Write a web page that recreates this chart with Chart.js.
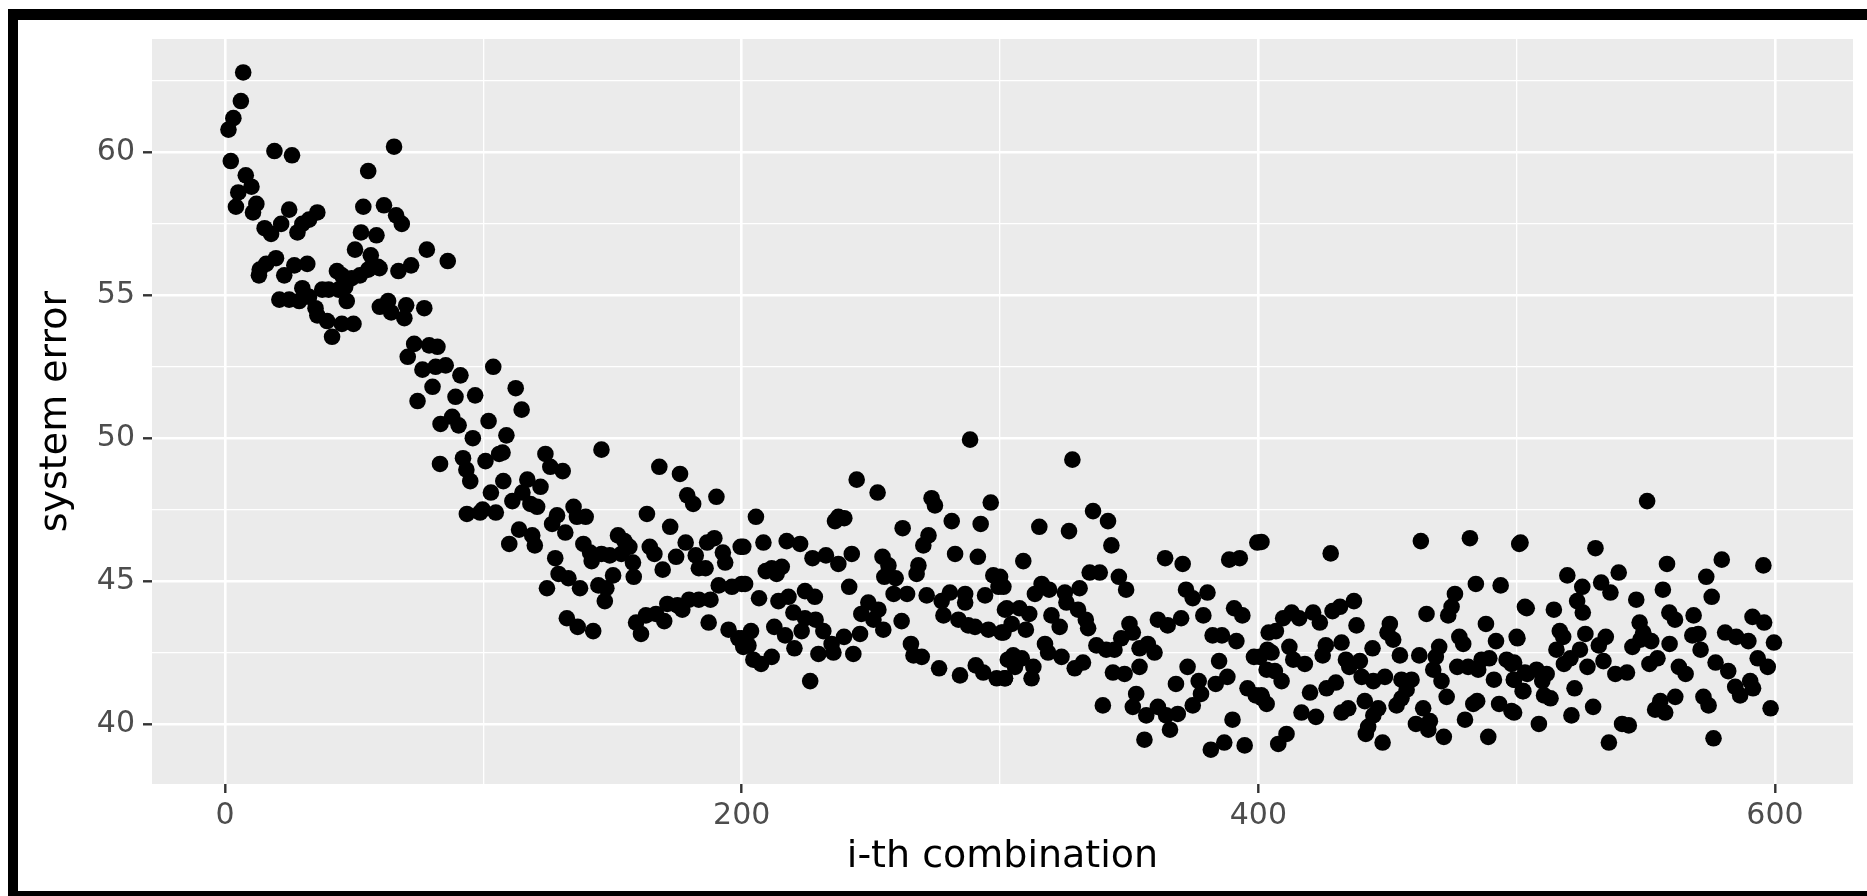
<!DOCTYPE html>
<html>
<head>
<meta charset="utf-8">
<script src="https://cdn.jsdelivr.net/npm/chart.js@4.4.1/dist/chart.umd.min.js"></script>
<style>
  html, body { margin: 0; padding: 0; background: #fff; overflow: hidden; }
  #wrap { position: relative; width: 1867px; height: 896px; }
  #frame {
    position: absolute; left: 8px; top: 9px; width: 3000px; height: 871px;
    border-left: 10px solid #000; border-top: 11px solid #000; border-bottom: 12px solid #000;
    pointer-events: none;
  }
</style>
</head>
<body>
<div id="wrap">
  <canvas id="errorChart" width="1867" height="896"></canvas>
  <div id="frame"></div>
</div>
<script>
// i-th combination (x) and system error (y)
const combination = [
  7.0, 6.1, 3.2, 1.3, 2.2, 19.1, 25.9, 65.4, 55.4, 8.0, 10.2, 5.1, 12.1, 4.2, 10.8, 24.8, 35.7, 32.5, 29.9, 28.0,
  53.5, 61.5, 66.2, 68.4, 15.3, 17.8, 21.7, 52.6, 58.6, 50.3, 56.4, 59.2, 78.1, 86.2, 19.7, 15.9, 13.4, 13.1, 22.9, 26.8,
  31.8, 29.9, 21.0, 24.8, 28.7, 32.5, 37.6, 43.3, 45.2, 49.0, 52.2, 55.4, 59.8, 46.5, 43.9, 40.1, 47.1, 35.7, 39.5, 41.4,
  45.2, 49.7, 35.0, 59.9, 63.1, 64.3, 70.1, 69.4, 77.1, 67.1, 72.0, 73.2, 70.7, 79.0, 82.2, 76.4, 81.5, 85.4, 91.1, 80.3,
  74.5, 89.2, 96.8, 83.4, 87.9, 90.4, 95.9, 83.2, 92.1, 93.4, 94.9, 93.6, 98.7,
  103.8, 112.5, 114.8, 102.0, 108.9, 106.1, 100.8, 107.4, 124.0, 125.9, 130.7, 145.7, 107.7, 117.0, 122.1, 102.9, 115.1, 111.2, 118.2, 120.8,
  99.7, 104.8, 168.1, 176.1, 178.9, 181.2, 190.2, 163.3, 172.3, 128.5, 126.6, 134.9, 136.2, 139.6, 131.7, 113.8, 110.0, 118.9, 119.9, 138.7,
  141.3, 141.9, 145.7, 148.9, 152.1, 154.6, 156.5, 153.4, 157.9, 164.4, 166.2, 169.4, 174.6, 178.3, 182.2, 183.4, 186.0, 186.6, 189.4, 192.7,
  193.6, 199.6, 127.8, 129.1, 132.9, 137.4, 124.6, 144.5, 147.6, 150.2, 147.0, 158.2, 132.3, 136.5, 142.5, 159.1, 161.0, 162.9, 166.8, 170.0,
  171.2, 175.1, 177.0, 179.6, 183.4, 187.9, 187.2, 191.1, 196.2, 200.0, 194.9, 198.7, 200.6,
  288.4, 244.5, 252.6, 273.5, 274.8, 296.4, 205.5, 237.4, 239.7, 236.1, 281.3, 292.5, 262.3, 200.6, 208.4, 217.4, 222.6, 272.3, 270.3, 282.6,
  291.4, 227.4, 232.6, 242.6, 237.4, 254.5, 256.8, 268.4, 267.7, 209.3, 211.6, 213.5, 215.5, 255.2, 259.6, 297.4, 201.3, 299.4, 294.2, 241.6,
  224.5, 206.7, 214.2, 218.1, 228.3, 258.8, 264.0, 271.6, 277.4, 280.6, 286.5, 286.5, 301.9, 249.0, 252.9, 246.3, 220.0, 224.5, 228.6, 251.0,
  254.8, 261.9, 278.1, 283.9, 287.7, 290.3, 295.5, 300.6, 212.6, 216.8, 223.2, 231.6, 239.6, 245.8, 200.0, 203.6, 202.6, 234.8, 235.5, 229.7,
  220.4, 211.6, 204.5, 207.5, 243.2, 265.5, 266.5, 269.7, 276.4, 284.5, 290.6, 293.5, 298.7, 301.9, 226.5, 303.0,
  328.0, 336.0, 341.8, 315.2, 326.7, 343.1, 309.0, 399.6, 363.9, 370.7, 388.7, 392.8, 334.7, 338.6, 346.0, 348.8, 300.0, 301.3, 316.1, 313.5,
  319.0, 325.1, 330.8, 325.7, 330.2, 333.2, 334.1, 372.0, 374.6, 380.3, 390.6, 393.8, 302.6, 307.5, 311.3, 304.5, 301.3, 310.0, 319.9, 323.1,
  361.1, 364.9, 370.1, 378.7, 350.1, 351.4, 346.9, 344.3, 337.3, 341.1, 317.4, 318.6, 323.8, 354.0, 357.2, 359.8, 382.3, 385.9, 391.5, 404.0,
  403.5, 398.3, 305.1, 308.4, 305.8, 312.9, 312.2, 301.9, 328.9, 332.1, 354.0, 372.6, 384.8, 388.0, 383.5, 376.9, 368.1, 343.7, 348.2, 352.7,
  351.4, 356.6, 361.1, 364.3, 368.8, 374.6, 377.8, 339.8, 395.8, 401.5, 399.0, 365.8, 355.9, 390.0, 381.6, 386.8, 394.7,
  401.2, 428.0, 462.9, 481.9, 501.0, 484.2, 493.8, 476.1, 474.8, 473.5, 465.1, 503.2, 437.0, 431.6, 428.7, 421.2, 423.8, 412.9, 415.8, 409.6,
  406.8, 438.0, 450.9, 450.0, 452.2, 488.1, 477.8, 479.3, 492.0, 500.0, 412.0, 405.1, 400.6, 426.1, 432.2, 424.9, 444.2, 454.8, 462.3, 470.0,
  468.7, 433.9, 435.2, 439.3, 413.5, 418.0, 486.4, 489.4, 496.1, 498.0, 477.0, 481.2, 485.1, 467.7, 403.2, 406.4, 409.0, 440.0, 444.5, 449.0,
  455.4, 459.3, 470.9, 491.2, 498.9, 503.2, 502.3, 420.0, 426.4, 430.0, 457.4, 455.4, 453.5, 401.2, 403.2, 472.9, 484.7, 483.2, 493.2, 498.0,
  441.2, 446.4, 434.8, 432.2, 416.7, 422.3, 463.8, 480.0, 444.5, 442.5, 441.6, 448.1, 461.0, 466.4, 465.8, 471.8, 489.0, 410.9, 407.7,
  550.5, 501.5, 530.5, 558.2, 579.4, 595.5, 519.6, 539.5, 573.4, 525.4, 532.7, 536.3, 556.6, 575.5, 546.3, 523.4, 503.9, 514.4, 525.6, 559.1,
  561.3, 568.5, 591.3, 595.8, 547.6, 516.7, 518.0, 526.6, 534.5, 549.0, 552.1, 547.9, 544.8, 500.3, 515.4, 524.5, 531.8, 559.2, 568.0, 570.3,
  571.2, 580.7, 585.0, 589.7, 599.6, 518.3, 520.8, 527.4, 533.6, 538.2, 542.7, 551.4, 554.5, 562.8, 565.4, 577.0, 581.9, 593.3, 597.2, 499.0,
  504.1, 507.7, 511.6, 509.9, 499.0, 502.6, 510.6, 513.1, 522.4, 584.6, 586.5, 590.4, 591.5, 561.4, 572.3, 574.3, 555.6, 553.6, 557.5, 529.6,
  521.2, 499.0, 508.6, 540.8, 543.4, 535.7, 576.2, 598.3
];

const systemError = [
  62.8, 61.8, 61.2, 60.8, 59.7, 60.05, 59.9, 60.2, 59.35, 59.2, 58.8, 58.6, 58.2, 58.1, 57.9, 58.0, 57.9, 57.65, 57.5, 57.2,
  58.1, 58.15, 57.8, 57.5, 57.35, 57.15, 57.5, 57.2, 57.1, 56.6, 56.4, 56.0, 56.6, 56.2, 56.3, 56.1, 55.9, 55.7, 55.7, 56.05,
  56.1, 55.25, 54.85, 54.85, 54.8, 54.95, 55.2, 55.85, 55.7, 55.6, 55.7, 55.9, 55.95, 55.3, 55.2, 55.2, 54.8, 54.3, 54.1, 53.55,
  54.0, 54.0, 54.55, 54.6, 54.8, 54.4, 54.65, 54.2, 54.55, 55.85, 56.05, 53.3, 52.85, 53.25, 53.2, 52.4, 52.5, 52.55, 52.2, 51.8,
  51.3, 51.45, 51.5, 50.5, 50.75, 50.45, 50.0, 49.1, 49.3, 48.9, 48.5, 47.35, 47.4,
  52.5, 51.75, 51.0, 50.6, 50.1, 49.45, 49.2, 49.5, 49.45, 49.0, 48.85, 49.6, 48.5, 48.55, 48.3, 48.1, 48.1, 47.8, 47.7, 47.6,
  47.5, 47.4, 49.0, 48.75, 48.0, 47.7, 47.95, 47.35, 46.9, 47.3, 47.0, 47.6, 47.25, 47.25, 46.7, 46.8, 46.3, 46.6, 46.25, 46.3,
  46.0, 45.7, 45.95, 45.9, 46.6, 46.4, 46.2, 45.95, 45.65, 46.2, 45.95, 45.4, 45.85, 46.35, 45.9, 45.45, 45.45, 46.35, 46.5, 46.0,
  45.65, 46.2, 45.8, 45.25, 45.1, 44.75, 44.75, 44.85, 44.75, 45.2, 44.3, 45.15, 43.7, 43.4, 43.25, 43.55, 43.15, 43.8, 43.85, 43.6,
  44.2, 44.15, 44.0, 44.35, 44.35, 44.35, 43.55, 44.85, 44.8, 44.9, 43.3, 43.0, 42.7,
  49.95, 48.55, 48.1, 47.9, 47.65, 47.75, 47.25, 47.25, 47.2, 47.1, 47.1, 47.0, 46.85, 46.2, 46.35, 46.4, 46.3, 46.6, 46.25, 45.95,
  45.85, 45.8, 45.9, 45.95, 45.6, 45.85, 45.55, 45.55, 45.25, 45.35, 45.45, 45.25, 45.5, 45.15, 45.1, 45.2, 44.9, 44.8, 44.5, 44.8,
  44.65, 44.4, 44.3, 44.45, 44.45, 44.55, 44.55, 44.5, 44.3, 44.6, 44.55, 44.25, 44.0, 44.25, 44.0, 43.85, 43.9, 43.7, 43.65, 43.65,
  43.3, 43.6, 43.8, 43.65, 43.45, 43.4, 43.3, 43.2, 43.4, 43.1, 43.25, 43.25, 43.05, 43.15, 43.0, 43.25, 42.75, 42.8, 42.5, 42.45,
  42.65, 42.35, 42.25, 42.1, 42.45, 42.8, 42.4, 42.35, 41.95, 41.7, 42.05, 41.8, 41.6, 41.6, 41.5, 42.25,
  49.25, 47.45, 47.1, 46.9, 46.75, 46.25, 45.7, 46.35, 45.8, 45.6, 45.75, 45.8, 45.3, 45.3, 45.15, 44.7, 45.15, 44.8, 44.9, 44.55,
  44.7, 44.6, 44.75, 44.25, 44.0, 43.65, 43.35, 44.7, 44.4, 44.6, 44.05, 43.8, 44.05, 44.05, 43.85, 43.5, 43.2, 43.3, 43.8, 43.4,
  43.65, 43.45, 43.7, 43.8, 43.5, 43.2, 43.0, 42.6, 42.75, 42.6, 42.8, 42.5, 42.35, 42.65, 42.8, 42.5, 43.1, 43.1, 42.9, 43.2,
  42.6, 42.35, 42.4, 42.3, 42.0, 42.0, 41.6, 41.6, 41.95, 42.15, 42.0, 42.0, 42.2, 41.65, 41.4, 41.5, 41.4, 41.8, 41.75, 41.05,
  40.6, 40.3, 40.6, 40.3, 40.35, 40.65, 41.05, 40.65, 41.25, 40.9, 41.0, 39.8, 39.45, 40.15, 39.1, 39.35, 39.25,
  46.37, 45.97, 46.4, 46.5, 46.3, 44.9, 44.85, 44.55, 44.1, 43.8, 43.85, 44.1, 44.3, 44.1, 43.95, 43.9, 43.55, 43.9, 43.7, 43.7,
  43.25, 43.45, 43.5, 43.2, 42.95, 43.5, 43.05, 42.8, 42.9, 43.05, 42.7, 42.5, 42.35, 42.75, 42.85, 42.4, 42.65, 42.4, 42.4, 42.7,
  42.35, 42.25, 42.0, 42.2, 42.25, 42.1, 42.25, 42.3, 42.25, 42.1, 42.0, 42.0, 41.9, 41.9, 41.9, 41.85, 41.5, 41.65, 41.5, 41.65,
  41.55, 41.55, 41.5, 41.55, 41.55, 41.8, 41.15, 41.1, 41.25, 41.45, 41.2, 40.9, 40.65, 41.0, 40.7, 40.95, 40.8, 40.7, 40.7, 40.45,
  40.8, 40.55, 40.55, 40.4, 40.4, 40.25, 40.55, 40.15, 40.3, 39.9, 39.65, 39.35, 40.0, 40.1, 39.8, 39.55, 39.55, 39.65, 39.3,
  47.8, 46.35, 46.15, 45.6, 45.75, 45.55, 45.2, 45.3, 45.15, 44.8, 44.95, 44.6, 44.7, 44.45, 44.35, 44.3, 44.05, 44.0, 43.9, 43.9,
  43.65, 43.8, 43.75, 43.55, 43.55, 43.25, 43.05, 43.15, 43.05, 43.2, 42.9, 42.95, 42.7, 43.0, 42.6, 42.6, 42.75, 42.8, 43.1, 43.15,
  42.6, 43.2, 43.05, 42.9, 42.85, 42.1, 42.3, 42.0, 42.2, 41.75, 41.8, 42.1, 42.3, 42.0, 41.75, 42.15, 41.85, 42.3, 42.0, 42.15,
  41.75, 41.9, 41.75, 41.5, 41.55, 41.15, 41.0, 40.9, 41.25, 41.3, 41.0, 41.5, 41.25, 40.95, 40.95, 40.65, 40.8, 40.5, 40.4, 40.6,
  40.3, 40.4, 40.0, 40.0, 39.95, 39.35, 39.5, 40.55
];

const xTicks = [0, 200, 400, 600];
const yTicks = [40, 45, 50, 55, 60];

const points = combination.map((x, i) => ({ x: x, y: systemError[i] }));

// grey ggplot panel behind the grid
const panelBg = {
  id: 'panelBg',
  beforeDraw(chart) {
    const { ctx, chartArea: a } = chart;
    ctx.save();
    ctx.fillStyle = '#EBEBEB';
    ctx.fillRect(a.left, a.top, a.right - a.left, a.bottom - a.top);
    ctx.restore();
  }
};

const isMajorX = v => xTicks.includes(v);
const isMajorY = v => yTicks.includes(v);

new Chart(document.getElementById('errorChart'), {
  type: 'scatter',
  data: {
    datasets: [{
      data: points,
      backgroundColor: '#000',
      borderWidth: 0,
      pointRadius: 8.3,
      pointHoverRadius: 8.3
    }]
  },
  options: {
    responsive: false,
    animation: false,
    events: [],
    layout: { padding: { left: 0, top: 39, right: 14, bottom: 0 } },
    plugins: { legend: { display: false }, tooltip: { enabled: false } },
    scales: {
      x: {
        type: 'linear',
        min: -28.3,
        max: 630.2,
        afterFit: s => { s.height = 112; },
        border: { display: false },
        grid: {
          color: '#FFFFFF',
          lineWidth: c => isMajorX(c.tick.value) ? 2.6 : 1.3,
          tickColor: c => isMajorX(c.tick.value) ? '#333333' : 'rgba(0,0,0,0)',
          tickWidth: 2.4,
          tickLength: 9
        },
        ticks: {
          stepSize: 100,
          includeBounds: false,
          maxRotation: 0,
          autoSkip: false,
          padding: 5,
          color: '#4D4D4D',
          font: { family: 'DejaVu Sans', size: 30 },
          callback: v => isMajorX(v) ? String(v) : ''
        },
        title: {
          display: true,
          text: 'i-th combination',
          color: '#000',
          font: { family: 'DejaVu Sans', size: 38 },
          padding: { top: 0, bottom: 16 }
        }
      },
      y: {
        type: 'linear',
        min: 37.9,
        max: 63.97,
        afterFit: s => { s.width = 152; },
        border: { display: false },
        grid: {
          color: '#FFFFFF',
          lineWidth: c => isMajorY(c.tick.value) ? 2.6 : 1.3,
          tickColor: c => isMajorY(c.tick.value) ? '#333333' : 'rgba(0,0,0,0)',
          tickWidth: 2.4,
          tickLength: 9
        },
        ticks: {
          stepSize: 2.5,
          includeBounds: false,
          autoSkip: false,
          padding: 8,
          color: '#4D4D4D',
          font: { family: 'DejaVu Sans', size: 30 },
          callback: v => isMajorY(v) ? String(v) : ''
        },
        title: {
          display: true,
          text: 'system error',
          color: '#000',
          font: { family: 'DejaVu Sans', size: 38 },
          padding: { top: 33, bottom: 0 }
        }
      }
    }
  },
  plugins: [panelBg]
});
</script>
</body>
</html>
